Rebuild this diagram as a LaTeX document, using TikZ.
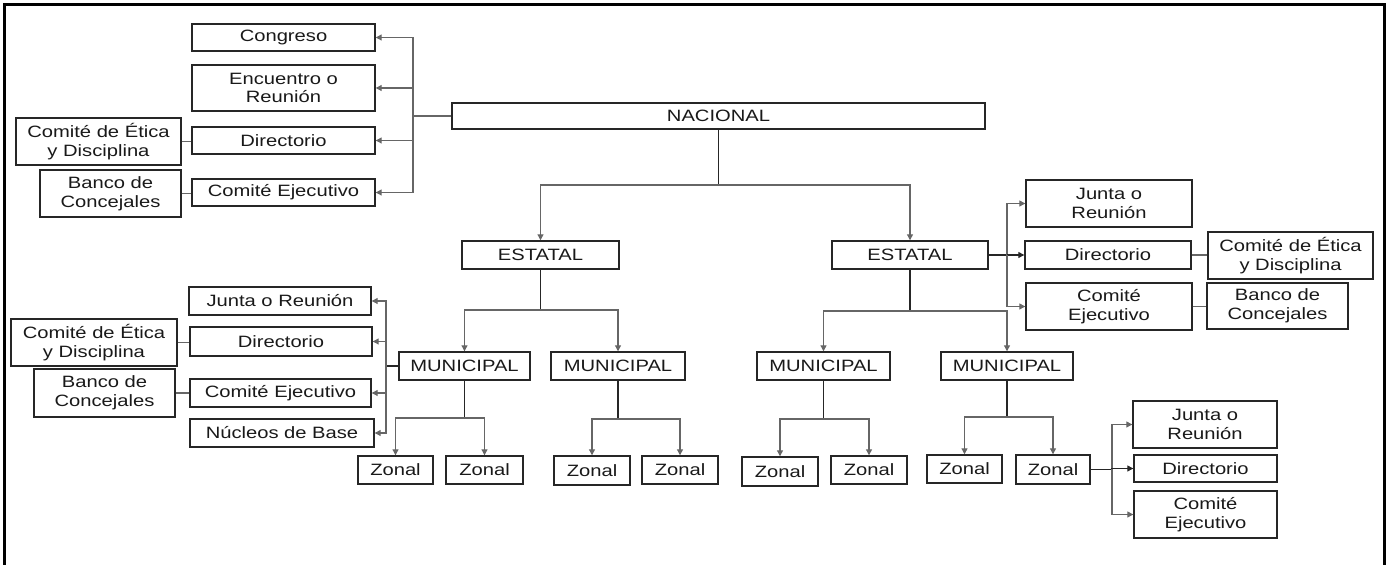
\documentclass[tikz,border=0pt]{standalone}
\usepackage{fontspec}
\setmainfont{Liberation Sans}[FakeStretch=1.23]
\usetikzlibrary{arrows.meta}
\tikzset{
  bx/.style={draw=black!85, line width=0.7pt, inner sep=0pt, align=center,
    font=\fontsize{8.2}{9.4}\selectfont, text=black!90, fill=white},
  ln/.style={draw=black!60, line width=0.55pt},
  arr/.style={ln, -{Triangle[length=3pt,width=3pt]}},
  frame/.style={line width=1.5pt, draw=black}
}
\begin{document}
\begin{tikzpicture}[x=0.5pt,y=-0.5pt]
\useasboundingbox (0,0) rectangle (1390,565);
\draw[frame] (4.5,570) -- (4.5,4.5) -- (1384.5,4.5) -- (1384.5,570);

% nodes
\node[bx, minimum width=91.5pt, minimum height=13.5pt] (cong) at (283.5,37.5) {Congreso};
\node[bx, minimum width=91.5pt, minimum height=23pt] (enc) at (283.5,88) {Encuentro o\\Reunión};
\node[bx, minimum width=82.5pt, minimum height=23.5pt] (etica1) at (98.5,141.5) {Comité de Ética\\y Disciplina};
\node[bx, minimum width=91.5pt, minimum height=13.5pt] (dir1) at (283.5,140.5) {Directorio};
\node[bx, minimum width=70.5pt, minimum height=23.5pt] (banco1) at (110.5,193.5) {Banco de\\Concejales};
\node[bx, minimum width=91.5pt, minimum height=13.5pt] (ce1) at (283.5,192.5) {Comité Ejecutivo};
\node[bx, minimum width=266.5pt, minimum height=13pt] (nac) at (718.5,116) {NACIONAL};

\node[bx, minimum width=78.5pt, minimum height=14pt] (est1) at (540.5,255) {ESTATAL};
\node[bx, minimum width=78pt, minimum height=14pt] (est2) at (910,255) {ESTATAL};

\node[bx, minimum width=83pt, minimum height=23.5pt] (junta2) at (1109,203.5) {Junta o\\Reunión};
\node[bx, minimum width=83pt, minimum height=14pt] (dir2) at (1108,255) {Directorio};
\node[bx, minimum width=83pt, minimum height=23.5pt] (ce2) at (1109,306.5) {Comité\\Ejecutivo};
\node[bx, minimum width=82.5pt, minimum height=23.5pt] (etica2) at (1290.5,255.5) {Comité de Ética\\y Disciplina};
\node[bx, minimum width=70.5pt, minimum height=23pt] (banco2) at (1277.5,306) {Banco de\\Concejales};

\node[bx, minimum width=65.5pt, minimum height=14pt] (mun1) at (464.5,366) {MUNICIPAL};
\node[bx, minimum width=67pt, minimum height=14pt] (mun2) at (618,366) {MUNICIPAL};
\node[bx, minimum width=66.5pt, minimum height=14pt] (mun3) at (823.5,366) {MUNICIPAL};
\node[bx, minimum width=66pt, minimum height=14pt] (mun4) at (1007,366) {MUNICIPAL};

\node[bx, minimum width=91pt, minimum height=14pt] (junta1) at (280,301) {Junta o Reunión};
\node[bx, minimum width=91pt, minimum height=14.5pt] (dir3) at (281,341.5) {Directorio};
\node[bx, minimum width=90.5pt, minimum height=14pt] (ce3) at (280.5,393) {Comité Ejecutivo};
\node[bx, minimum width=92pt, minimum height=14pt] (nucleos) at (282,433) {Núcleos de Base};
\node[bx, minimum width=83pt, minimum height=23.5pt] (etica3) at (94,342.5) {Comité de Ética\\y Disciplina};
\node[bx, minimum width=70.5pt, minimum height=24pt] (banco3) at (104.5,393) {Banco de\\Concejales};

\node[bx, minimum width=37.5pt, minimum height=14pt] (z1) at (395.5,470) {Zonal};
\node[bx, minimum width=38.5pt, minimum height=14pt] (z2) at (484.5,470) {Zonal};
\node[bx, minimum width=38pt, minimum height=14.5pt] (z3) at (592,470.5) {Zonal};
\node[bx, minimum width=38pt, minimum height=14pt] (z4) at (680,470) {Zonal};
\node[bx, minimum width=38pt, minimum height=14.5pt] (z5) at (780,471.5) {Zonal};
\node[bx, minimum width=38pt, minimum height=14pt] (z6) at (869,470) {Zonal};
\node[bx, minimum width=37.5pt, minimum height=14pt] (z7) at (964.5,469) {Zonal};
\node[bx, minimum width=37pt, minimum height=14.5pt] (z8) at (1053,469.5) {Zonal};

\node[bx, minimum width=72pt, minimum height=23.5pt] (junta3) at (1205,424.5) {Junta o\\Reunión};
\node[bx, minimum width=71.5pt, minimum height=13.5pt] (dir4) at (1205.5,468.5) {Directorio};
\node[bx, minimum width=71.5pt, minimum height=23.5pt] (ce4) at (1205.5,514.5) {Comité\\Ejecutivo};

% nacional side cluster
\coordinate (va) at (413,116);
\draw[ln] (nac.west) -- (va);
\draw[arr] (va) |- (cong.east);
\draw[arr] (va) |- (enc.east);
\draw[arr] (va) |- (dir1.east);
\draw[arr] (va) |- (ce1.east);
\draw[ln] (etica1.east) -- (etica1.east -| dir1.west);
\draw[ln] (banco1.east) -- (banco1.east -| ce1.west);

% nacional down
\coordinate (ja) at (718.5,185);
\draw[ln, draw=black!85] (nac.south) -- (ja);
\draw[arr] (ja) -| (est1.north);
\draw[arr] (ja) -| (est2.north);

% estatal 2 side cluster
\coordinate (vb) at (1007,255);
\draw[ln, draw=black!85] (est2.east) -- (vb);
\draw[arr] (vb) |- (junta2.west);
\draw[arr, draw=black!85] (vb) -- (dir2.west);
\draw[arr] (vb) |- (ce2.west);
\draw[ln] (dir2.east) -- (dir2.east -| etica2.west);
\draw[ln] (ce2.east) -- (ce2.east -| banco2.west);

% estatal down
\coordinate (jb) at (540.5,310);
\draw[ln, draw=black!85] (est1.south) -- (jb);
\draw[arr] (jb) -| (mun1.north);
\draw[arr] (jb) -| (mun2.north);
\coordinate (jc) at (910,311);
\draw[ln, draw=black!85] (est2.south) -- (jc);
\draw[arr] (jc) -| (mun3.north);
\draw[arr] (jc) -| (mun4.north);

% municipal 1 side cluster
\coordinate (vc) at (386,366);
\draw[ln, draw=black!85] (mun1.west) -- (vc);
\draw[arr] (vc) |- (junta1.east);
\draw[arr] (vc) |- (dir3.east);
\draw[arr] (vc) |- (ce3.east);
\draw[arr] (vc) |- (nucleos.east);
\draw[ln] (etica3.east) -- (etica3.east -| dir3.west);
\draw[ln] (banco3.east) -- (banco3.east -| ce3.west);

% municipal down
\coordinate (jd) at (464.5,418);
\draw[ln, draw=black!85] (mun1.south) -- (jd);
\draw[arr] (jd) -| (z1.north);
\draw[arr] (jd) -| (z2.north);
\coordinate (je) at (618,419);
\draw[ln, draw=black!85] (mun2.south) -- (je);
\draw[arr] (je) -| (z3.north);
\draw[arr] (je) -| (z4.north);
\coordinate (jf) at (823.5,419);
\draw[ln, draw=black!85] (mun3.south) -- (jf);
\draw[arr] (jf) -| (z5.north);
\draw[arr] (jf) -| (z6.north);
\coordinate (jg) at (1007,417);
\draw[ln, draw=black!85] (mun4.south) -- (jg);
\draw[arr] (jg) -| (z7.north);
\draw[arr] (jg) -| (z8.north);

% zonal 8 side cluster
\coordinate (vd) at (1112,469.5);
\draw[ln, draw=black!85] (z8.east) -- (vd);
\draw[arr] (vd) |- (junta3.west);
\draw[arr, draw=black!85] (vd) |- (dir4.west);
\draw[arr] (vd) |- (ce4.west);
\end{tikzpicture}
\end{document}
